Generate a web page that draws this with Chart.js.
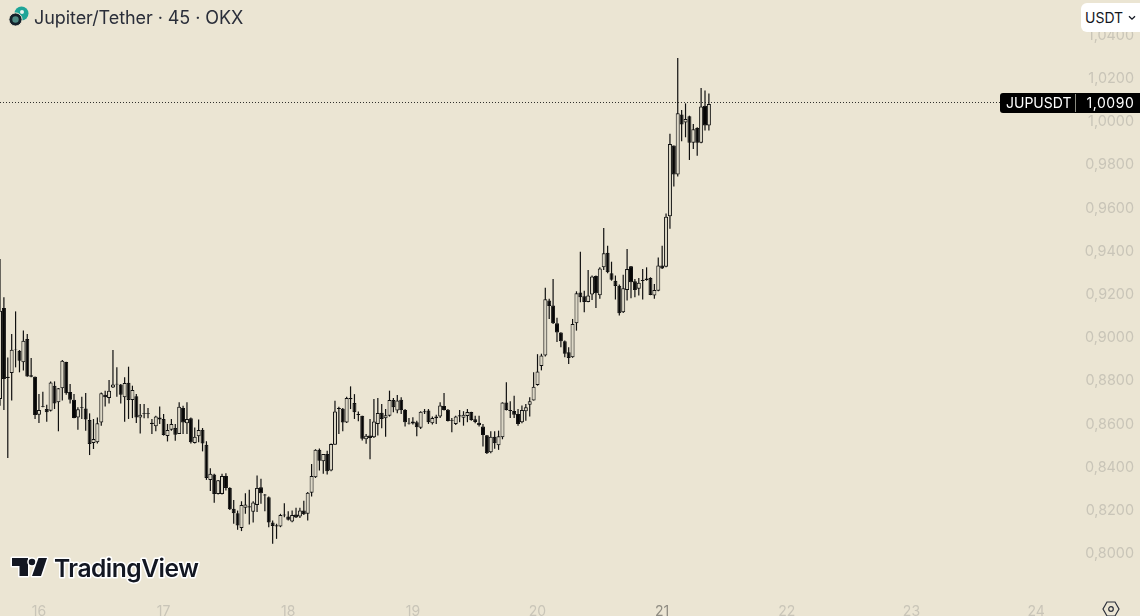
<!DOCTYPE html>
<html><head><meta charset="utf-8">
<script src="https://cdn.jsdelivr.net/npm/chart.js@4"></script>
<style>
html,body{margin:0;padding:0;background:#ebe5d3;overflow:hidden}
#wrap{position:relative;width:1140px;height:616px;font-family:Inter,"Noto Sans",sans-serif}
#wrap canvas{position:absolute;left:0;top:0}
.title{position:absolute;left:34px;top:6px;font-size:18px;line-height:24px;color:#2a2e39;white-space:nowrap;letter-spacing:-.07px}
.btn{position:absolute;left:1081px;top:3px;width:59px;height:29px;background:#fff;border-radius:6px 0 0 6px;font-size:14px;line-height:29px;color:#131722;box-sizing:border-box;padding-left:4px;white-space:nowrap}
.tag{position:absolute;left:1000px;top:93px;width:140px;height:20px;background:#000;border-radius:3px 0 0 3px;color:#fff;font-size:14px;line-height:19px}
.tag span{position:absolute;top:0}
.tag i{position:absolute;left:75px;top:1px;width:1px;height:18px;background:#8a8a80}
svg{position:absolute;overflow:visible}
</style></head><body>
<div id="wrap">
<canvas id="c" width="1140" height="616"></canvas>
<svg style="left:6px;top:4px" width="26" height="26" viewBox="0 0 26 26">
 <circle cx="15.5" cy="9.5" r="7" fill="#1fa598"/><circle cx="16" cy="8" r="2" fill="#e6f4ee"/>
 <circle cx="9.5" cy="15.5" r="6.6" fill="#14212b" stroke="#ebe5d3" stroke-width="1"/><circle cx="9.5" cy="15.5" r="3.2" fill="#4d8a84"/>
</svg>
<div class="title">Jupiter/Tether · 45 · OKX</div>
<div class="btn">USDT <svg style="left:47px;top:12px" width="8" height="6" viewBox="0 0 8 6"><path d="M1 1.2 4 4.2 7 1.2" fill="none" stroke="#131722" stroke-width="1.3"/></svg></div>
<div class="tag"><span style="left:6px">JUPUSDT</span><i></i><span style="left:86.5px;letter-spacing:.55px">1,0090</span></div>
<svg style="left:0;top:545px" width="220" height="50" viewBox="0 0 220 50">
 <g fill="#131722" stroke="#fff" stroke-width="3" paint-order="stroke" stroke-linejoin="round">
  <path d="M12 13H28V31H19.5V21H12Z"/><circle cx="32" cy="17" r="3.3"/>
  <path d="M32 31 38.5 13H47L41 31Z"/>
  <text x="54" y="32" font-family="Inter,sans-serif" font-weight="600" font-size="24.6" letter-spacing="-.5">TradingView</text>
 </g>
</svg>
<svg style="left:1102px;top:601px" width="18" height="16" viewBox="0 0 18 16">
 <path d="M5 1H13L17 8 13 15H5L1 8Z" fill="none" stroke="#2a2e39" stroke-width="1.2"/><circle cx="9" cy="8" r="2.3" fill="none" stroke="#2a2e39" stroke-width="1.2"/>
</svg>
</div>
<script>
const opens=[
.8717,.9139,.8821,.8838,.8947,.8941,.8887,.8995,.8827,.8821,
.8645,.8682,.8671,.8663,.8779,.8702,.8767,.8889,.8750,.8714,
.8632,.8679,.8674,.8620,.8514,.8517,.8609,.8737,.8722,.8771,
.8788,.8784,.8725,.8793,.8713,.8730,.8632,.8648,.8651,.8608,
.8591,.8632,.8625,.8546,.8575,.8583,.8555,.8676,.8605,.8628,
.8514,.8545,.8575,.8506,.8343,.8368,.8278,.8278,.8361,.8306,
.8209,.8189,.8120,.8214,.8221,.8195,.8227,.8309,.8275,.8263,
.8146,.8133,.8127,.8183,.8173,.8150,.8183,.8173,.8201,.8186,
.8284,.8355,.8482,.8429,.8463,.8386,.8506,.8676,.8672,.8609,
.8722,.8699,.8648,.8640,.8531,.8548,.8540,.8602,.8654,.8628,
.8640,.8713,.8664,.8714,.8667,.8608,.8604,.8610,.8584,.8656,
.8664,.8605,.8628,.8636,.8685,.8668,.8620,.8602,.8636,.8631,
.8639,.8657,.8624,.8608,.8590,.8550,.8471,.8543,.8503,.8540,
.8701,.8667,.8662,.8648,.8610,.8661,.8691,.8710,.8782,.8870,
.8919,.9173,.9150,.9068,.9025,.8985,.8934,.8911,.9068,.9210,
.9193,.9167,.9201,.9287,.9198,.9327,.9395,.9299,.9265,.9242,
.9119,.9222,.9332,.9262,.9228,.9268,.9268,.9278,.9196,.9219,
.9336,.9330,.9564,.9891,.9757,1.0034,.9997,1.0026,.9904,.9972,
.9904,1.0075,.9983];
const closes=[
.9126,.8810,.8815,.8946,.8944,.8895,.8987,.8822,.8821,.8643,
.8666,.8685,.8656,.8794,.8697,.8767,.8895,.8744,.8714,.8629,
.8670,.8676,.8622,.8509,.8532,.8605,.8744,.8725,.8756,.8784,
.8785,.8737,.8791,.8713,.8759,.8632,.8645,.8651,.8648,.8602,
.8636,.8623,.8551,.8574,.8602,.8552,.8682,.8609,.8625,.8517,
.8543,.8574,.8512,.8352,.8371,.8278,.8341,.8361,.8306,.8207,
.8189,.8132,.8227,.8229,.8215,.8238,.8306,.8281,.8271,.8146,
.8129,.8127,.8180,.8178,.8158,.8180,.8169,.8201,.8184,.8284,
.8361,.8482,.8432,.8463,.8383,.8509,.8660,.8671,.8609,.8722,
.8716,.8656,.8643,.8533,.8547,.8537,.8613,.8653,.8625,.8642,
.8713,.8679,.8710,.8667,.8610,.8604,.8613,.8587,.8659,.8661,
.8610,.8630,.8637,.8687,.8667,.8616,.8617,.8636,.8642,.8644,
.8657,.8620,.8611,.8596,.8551,.8466,.8543,.8513,.8545,.8701,
.8667,.8662,.8645,.8602,.8667,.8679,.8707,.8774,.8845,.8919,
.9179,.9148,.9068,.9025,.8985,.8927,.8907,.9065,.9207,.9188,
.9167,.9196,.9284,.9207,.9322,.9392,.9304,.9270,.9241,.9114,
.9230,.9319,.9258,.9222,.9256,.9264,.9275,.9199,.9222,.9336,
.9321,.9561,.9898,.9757,1.0040,.9988,1.0014,.9904,.9966,.9904,
1.0071,.9983,1.0083];
const highs=[
.9365,.9188,.8910,.9018,.9123,.8944,.9034,.9018,.8907,.8822,
.8741,.8751,.8691,.8798,.8799,.8768,.8898,.8890,.8787,.8741,
.8679,.8728,.8745,.8651,.8625,.8632,.8748,.8756,.8805,.8944,
.8864,.8787,.8818,.8867,.8779,.8741,.8694,.8694,.8676,.8625,
.8640,.8683,.8648,.8602,.8625,.8602,.8702,.8686,.8702,.8632,
.8586,.8622,.8583,.8522,.8397,.8371,.8343,.8371,.8374,.8309,
.8250,.8201,.8244,.8281,.8297,.8244,.8363,.8348,.8278,.8266,
.8155,.8140,.8186,.8235,.8198,.8201,.8214,.8214,.8247,.8287,
.8417,.8485,.8488,.8463,.8478,.8512,.8709,.8682,.8676,.8728,
.8776,.8740,.8660,.8640,.8556,.8625,.8718,.8722,.8694,.8671,
.8756,.8722,.8736,.8725,.8671,.8630,.8633,.8617,.8661,.8671,
.8671,.8636,.8645,.8702,.8745,.8671,.8630,.8640,.8667,.8661,
.8671,.8659,.8640,.8640,.8602,.8551,.8568,.8568,.8571,.8702,
.8795,.8707,.8733,.8671,.8687,.8694,.8725,.8841,.8925,.8927,
.9232,.9181,.9273,.9093,.9027,.8988,.8957,.9088,.9216,.9399,
.9219,.9315,.9289,.9289,.9327,.9509,.9427,.9353,.9289,.9247,
.9293,.9412,.9333,.9273,.9278,.9319,.9327,.9281,.9250,.9373,
.9427,.9576,.9945,.9891,1.0296,1.0055,1.0086,1.0029,.9991,.9975,
1.0157,1.0145,1.0132];
const lows=[
.8686,.8666,.8444,.8710,.8864,.8841,.8849,.8821,.8818,.8625,
.8606,.8679,.8612,.8660,.8671,.8568,.8710,.8737,.8697,.8628,
.8575,.8625,.8571,.8458,.8486,.8512,.8594,.8683,.8697,.8768,
.8728,.8697,.8612,.8625,.8629,.8606,.8558,.8628,.8628,.8555,
.8568,.8602,.8548,.8521,.8571,.8524,.8555,.8555,.8555,.8512,
.8512,.8517,.8475,.8343,.8291,.8237,.8275,.8275,.8294,.8204,
.8140,.8112,.8106,.8186,.8137,.8146,.8194,.8232,.8198,.8124,
.8047,.8070,.8124,.8170,.8155,.8147,.8166,.8167,.8181,.8155,
.8266,.8352,.8386,.8371,.8368,.8383,.8506,.8555,.8568,.8606,
.8671,.8625,.8614,.8525,.8510,.8439,.8537,.8548,.8582,.8543,
.8636,.8656,.8651,.8648,.8590,.8599,.8599,.8545,.8579,.8648,
.8602,.8599,.8602,.8630,.8664,.8613,.8564,.8597,.8610,.8594,
.8610,.8617,.8605,.8590,.8497,.8463,.8466,.8487,.8482,.8531,
.8664,.8630,.8630,.8594,.8605,.8617,.8636,.8710,.8779,.8850,
.8914,.9088,.9065,.8981,.8957,.8911,.8880,.8908,.9034,.9165,
.9119,.9165,.9176,.9139,.9181,.9315,.9299,.9265,.9178,.9104,
.9116,.9173,.9184,.9188,.9196,.9178,.9265,.9198,.9181,.9216,
.9319,.9327,.9506,.9701,.9747,.9911,.9929,.9824,.9875,.9844,
.9901,.9960,.9960];
const priceTicks=[0.80,0.82,0.84,0.86,0.88,0.90,0.92,0.94,0.96,0.98,1.00,1.02,1.04];
const dayLabels=[16,17,18,19,20,21,22,23,24];
const dayStart=[10,42,74,106,138,170,202,234,266];
const lastPrice=1.0090;
const highlightDay=21;

const idx=opens.map((_,i)=>i);
const upFill='#dcd7c6', dark='#101010';
function noPad(s){s.paddingTop=0;s.paddingBottom=0;s.paddingLeft=0;s.paddingRight=0}
new Chart(document.getElementById('c'),{
 type:'bar',
 data:{datasets:[
  {label:'body',grouped:false,barThickness:4,inflateAmount:0,borderSkipped:false,borderWidth:1,
   borderColor:dark,
   backgroundColor:idx.map(i=>closes[i]>=opens[i]?upFill:'#050505'),
   data:idx.map(i=>({x:i,y:[opens[i],closes[i]]}))},
  {label:'wick',grouped:false,barThickness:1.2,inflateAmount:0,borderWidth:0,
   backgroundColor:dark,
   data:idx.map(i=>({x:i,y:[lows[i],highs[i]]}))},
  {type:'line',label:'last',data:[{x:0,y:lastPrice},{x:256.9,y:lastPrice}],
   borderColor:'#30302c',borderWidth:1,borderDash:[1,2],pointRadius:0}
 ]},
 options:{
  responsive:false,animation:false,events:[],
  layout:{padding:0},
  plugins:{legend:{display:false},tooltip:{enabled:false}},
  scales:{
   x:{type:'linear',offset:false,min:0,max:292.68,
    grid:{display:false,drawTicks:false},border:{display:false},
    afterBuildTicks(s){s.ticks=dayStart.map(v=>({value:v}))},
    afterFit(s){s.height=20;noPad(s)},
    ticks:{autoSkip:false,maxRotation:0,padding:7,
     font:{family:'Inter',size:14},
     color:c=>dayLabels[dayStart.indexOf(c.tick.value)]===highlightDay?'#8f8c82':'#c9c5b8',
     callback:v=>{const k=dayStart.indexOf(v);return k<0?'':String(dayLabels[k])}}},
   y:{position:'right',min:0.78055,max:1.05645,
    grid:{display:false,drawTicks:false},border:{display:false},
    afterBuildTicks(s){s.ticks=priceTicks.map(v=>({value:v}))},
    afterFit(s){s.width=0;noPad(s)},
    ticks:{mirror:true,padding:-6,font:{family:'Inter',size:14.4},color:'#c9c5b8',
     callback:v=>v.toFixed(4).replace('.',',')}}
  }
 }
});
</script>
</body></html>
